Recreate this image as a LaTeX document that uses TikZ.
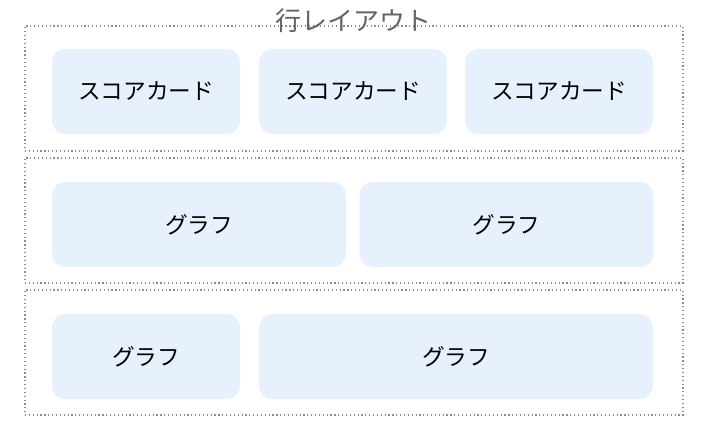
\documentclass[tikz,border=0pt]{standalone}
\usepackage{fontspec}
\newfontfamily\jpfont{Noto Sans CJK JP}
\newdimen\px \px=0.75pt
\definecolor{cardBlue}{RGB}{231, 241, 253}
\definecolor{frameGray}{RGB}{140, 140, 140}
\definecolor{titleGray}{RGB}{100, 100, 100}
\tikzset{
  rowframe/.style = {draw = frameGray, dotted, line width = 0.9pt, inner sep = 0pt,
    minimum width = 658\px, minimum height = 125\px},
  card/.style = {fill = cardBlue, rounded corners = 13\px, inner sep = 0pt,
    minimum height = 85\px, font = \jpfont\fontsize{17pt}{19pt}\selectfont},
}

\begin{document}
\begin{tikzpicture}[x = 1\px, y = -1\px]
  % Bounding box
  \useasboundingbox (0, 0) rectangle (707, 437);
  % Zeilenrahmen
  \node [rowframe] (row1) at (354, 88.5) {};
  \node [rowframe] (row2) at (354, 220.5) {};
  \node [rowframe] (row3) at (354, 352.5) {};
  \node [text = titleGray, font = \jpfont\fontsize{19.5pt}{21pt}\selectfont] (title) at (353.5, 21) {行レイアウト};
  % Zeile 1
  \node [card, minimum width = 188\px] (score1) at (146, 91.5) {スコアカード};
  \node [card, minimum width = 188\px] (score2) at (353, 91.5) {スコアカード};
  \node [card, minimum width = 188\px] (score3) at (559, 91.5) {スコアカード};
  % Zeile 2
  \node [card, minimum width = 294\px] (graph1) at (199, 224.5) {グラフ};
  \node [card, minimum width = 294\px] (graph2) at (506.5, 224.5) {グラフ};
  % Zeile 3
  \node [card, minimum width = 188\px] (graph3) at (146, 356.5) {グラフ};
  \node [card, minimum width = 394\px] (graph4) at (456, 356.5) {グラフ};
\end{tikzpicture}
\end{document}
